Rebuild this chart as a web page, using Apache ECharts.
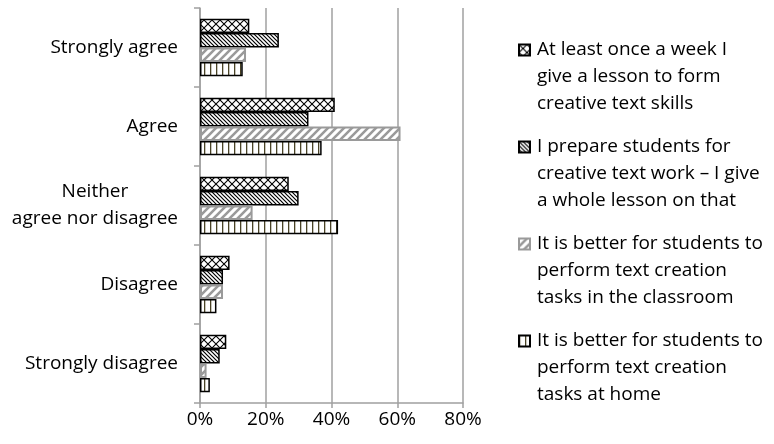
<!DOCTYPE html>
<html><head><meta charset="utf-8">
<script src="https://cdn.jsdelivr.net/npm/echarts@6/dist/echarts.min.js"></script>
<style>html,body{margin:0;padding:0;background:#fff}#c{width:774px;height:444px}</style>
</head><body><div id="c"></div>
<script>
const categories = ['Strongly agree', 'Agree', 'Neither\nagree nor disagree', 'Disagree', 'Strongly disagree'];
const seriesNames = [
  'At least once a week I\ngive a lesson to form\ncreative text skills',
  'I prepare students for\ncreative text work – I give\na whole lesson on that',
  'It is better for students to\nperform text creation\ntasks in the classroom',
  'It is better for students to\nperform text creation\ntasks at home'
];
const weeklyLesson = [15, 41, 27, 9, 8];
const preparation = [24, 33, 30, 7, 6];
const classroom = [14, 61, 16, 7, 2];
const home = [13, 37, 42, 5, 3];
const xTickMin = 0, xTickMax = 80, xTickStep = 20;

function makeTile(w, h, draw) {
  const c = document.createElement('canvas');
  c.width = w; c.height = h;
  const g = c.getContext('2d');
  g.fillStyle = '#fff'; g.fillRect(0, 0, w, h);
  draw(g, w, h);
  return { image: c, repeat: 'repeat' };
}
const patCross = makeTile(8, 8, (g, w, h) => {
  g.strokeStyle = '#000'; g.lineWidth = 1.1;
  g.beginPath();
  g.moveTo(0, 0); g.lineTo(w, h);
  g.moveTo(w, 0); g.lineTo(0, h);
  g.stroke();
});
const patBack = makeTile(4, 4, (g, w, h) => {
  g.strokeStyle = '#000'; g.lineWidth = 1.2;
  g.beginPath();
  g.moveTo(-1, -1); g.lineTo(w + 1, h + 1);
  g.moveTo(w - 1, -1); g.lineTo(w + 1, 1);
  g.moveTo(-1, h - 1); g.lineTo(1, h + 1);
  g.stroke();
});
const patFwd = makeTile(8, 8, (g, w, h) => {
  g.strokeStyle = '#9a9a9a'; g.lineWidth = 2.6;
  g.beginPath();
  g.moveTo(-1, h + 1); g.lineTo(w + 1, -1);
  g.moveTo(-1, 1); g.lineTo(1, -1);
  g.moveTo(w - 1, h + 1); g.lineTo(w + 1, h - 1);
  g.stroke();
});
const patVert = makeTile(6, 2, (g, w, h) => {
  g.fillStyle = '#4a4326'; g.fillRect(0, 0, 1.3, h);
});

const patterns = [patCross, patBack, patFwd, patVert];
const borders = ['#000', '#000', '#9a9a9a', '#000'];
const values = [weeklyLesson, preparation, classroom, home];

const chart = echarts.init(document.getElementById('c'), null, { renderer: 'canvas' });
const font = '"Open Sans"';
const fs = 19;
chart.setOption({
  animation: false,
  textStyle: { fontFamily: font },
  grid: { left: 200, right: 311, top: 8, bottom: 41 },
  xAxis: {
    type: 'value', min: xTickMin, max: xTickMax, interval: xTickStep,
    axisLine: { show: true, lineStyle: { color: '#a0a0a0', width: 1.5 } },
    axisTick: { show: true, length: 5, lineStyle: { color: '#a0a0a0', width: 1.5 } },
    splitLine: { show: true, lineStyle: { color: '#a0a0a0', width: 1.5 } },
    axisLabel: { formatter: '{value}%', fontSize: fs, color: '#000', margin: 7, fontFamily: font }
  },
  yAxis: {
    type: 'category', inverse: true, data: categories,
    axisLine: { show: true, lineStyle: { color: '#a0a0a0', width: 1.5 } },
    axisTick: { show: true, length: 6, lineStyle: { color: '#a0a0a0', width: 1.5 } },
    axisLabel: {
      fontSize: fs, color: '#000', margin: 22, lineHeight: 27, fontFamily: font,
      formatter: v => v.indexOf('\n') >= 0 ? v.split('\n').map(s => '{c|' + s + '}').join('\n') : v,
      rich: { c: { align: 'center', fontSize: fs, lineHeight: 27, color: '#000', fontFamily: font } }
    }
  },
  legend: {
    orient: 'vertical', left: 518, top: -17.5, padding: 0,
    itemWidth: 11, itemHeight: 11, itemGap: -38,
    icon: 'rect',
    formatter: n => '\n\n' + n,
    textStyle: { fontSize: fs, lineHeight: 27, color: '#000', fontFamily: font, padding: [0, 0, 0, 2] },
    data: seriesNames
  },
  series: seriesNames.map((name, i) => ({
    name, type: 'bar', data: values[i],
    barGap: '0%', barCategoryGap: '27%',
    itemStyle: { color: patterns[i], borderColor: borders[i], borderWidth: i === 2 ? 2 : 1.5 }
  }))
});
</script></body></html>
